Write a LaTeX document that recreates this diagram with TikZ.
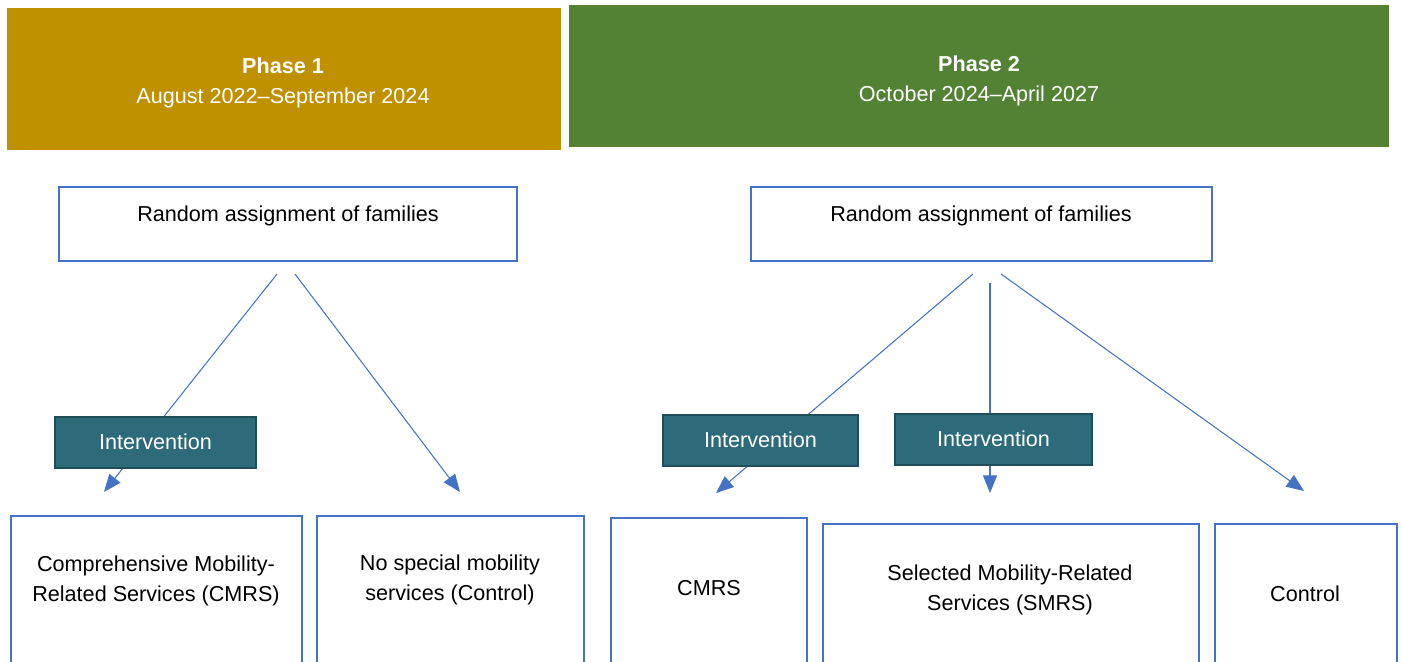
\documentclass[tikz,border=0pt]{standalone}
\usepackage{fontspec}
\setmainfont{Liberation Sans}
\usetikzlibrary{arrows.meta, positioning}

\definecolor{phaseone}{HTML}{BF9000}
\definecolor{phasetwo}{HTML}{548235}
\definecolor{boxblue}{HTML}{4472C4}
\definecolor{interfill}{HTML}{2E6B7A}
\definecolor{interdraw}{HTML}{1F4D59}

\begin{document}
\begin{tikzpicture}[x=0.02cm, y=-0.02cm,
                    font=\fontsize{12.3}{17}\selectfont]

        % Setup the styles for the boxes
        \tikzset{phase style/.style={rectangle,
                                     fill=#1,
                                     minimum height=2.84cm},
                 frame style/.style={rectangle,
                                     draw=boxblue,
                                     line width=1.1pt,
                                     fill=white},
                 inter style/.style={rectangle,
                                     draw=interdraw,
                                     line width=1.4pt,
                                     fill=interfill,
                                     text=white,
                                     text height=9pt,
                                     text depth=1pt,
                                     minimum height=1.02cm},
                 text style/.style={align=center},
                 arrow style/.style={draw=boxblue,
                                     line width=0.6pt,
                                     -{Triangle[length=10pt, width=8pt]}}}

        \useasboundingbox (0,0) rectangle (1402,662);
        \clip (0,0) rectangle (1402,662);

        % Draw the phase headers
        \node[phase style=phaseone, minimum width=11.08cm] at (284, 79) (ph1) {};
        \node[phase style=phasetwo, minimum width=16.4cm]  at (979, 76) (ph2) {};
        \node[text style, text=white] at (283, 83) (phtxt1)
            {\textbf{Phase 1}\\August 2022–September 2024};
        \node[text style, text=white] at (979, 81) (phtxt2)
            {\textbf{Phase 2}\\October 2024–April 2027};

        % Draw the random assignment boxes
        \node[frame style, minimum width=9.16cm, minimum height=1.48cm] at (288, 224)   (rand1) {};
        \node[frame style, minimum width=9.22cm, minimum height=1.48cm] at (981.5, 224) (rand2) {};
        \node[text style] at (288, 216)   (randtxt1) {Random assignment of families};
        \node[text style] at (981, 216)   (randtxt2) {Random assignment of families};

        % Draw the outcome boxes
        \node[frame style, minimum width=5.82cm, minimum height=3.68cm] at (156.5, 608) (cmrs1) {};
        \node[frame style, minimum width=5.34cm, minimum height=3.68cm] at (450.5, 608) (ctrl1) {};
        \node[frame style, minimum width=3.92cm, minimum height=3.64cm] at (709, 609)   (cmrs2) {};
        \node[frame style, minimum width=7.52cm, minimum height=3.52cm] at (1011, 612)  (smrs2) {};
        \node[frame style, minimum width=3.64cm, minimum height=3.52cm] at (1306, 612)  (ctrl2) {};

        \node[text style] at (156, 581)  (cmrstxt1) {Comprehensive Mobility-\\Related Services (CMRS)};
        \node[text style] at (450, 580)  (ctrltxt1) {No special mobility\\services (Control)};
        \node[text style] at (709, 588)  (cmrstxt2) {CMRS};
        \node[text style] at (1010, 590) (smrstxt2) {Selected Mobility-Related\\Services (SMRS)};
        \node[text style] at (1305, 594) (ctrltxt2) {Control};

        % Ends of the arrows
        \coordinate (a1) at (277, 274);
        \coordinate (a2) at (295, 274);
        \coordinate (a3) at (973, 274);
        \coordinate (a4) at (990, 283);
        \coordinate (a5) at (1001, 274);
        \coordinate (b1) at (104, 492);
        \coordinate (b2) at (460, 492);
        \coordinate (b3) at (716, 493);
        \coordinate (b4) at (990, 493);
        \coordinate (b5) at (1304, 491);

        % Connect with arrows
        \draw[arrow style] (a1) -- (b1);
        \draw[arrow style] (a2) -- (b2);
        \draw[arrow style] (a3) -- (b3);
        \draw[arrow style] (a4) -- (b4);
        \draw[arrow style] (a5) -- (b5);

        % Draw the intervention labels on top
        \node[inter style, minimum width=4.02cm] at (155.5, 442.5) (int1) {Intervention};
        \node[inter style, minimum width=3.9cm]  at (760.5, 440.5) (int2) {Intervention};
        \node[inter style, minimum width=3.94cm] at (993.5, 439.5) (int3) {Intervention};
    \end{tikzpicture}
\end{document}
